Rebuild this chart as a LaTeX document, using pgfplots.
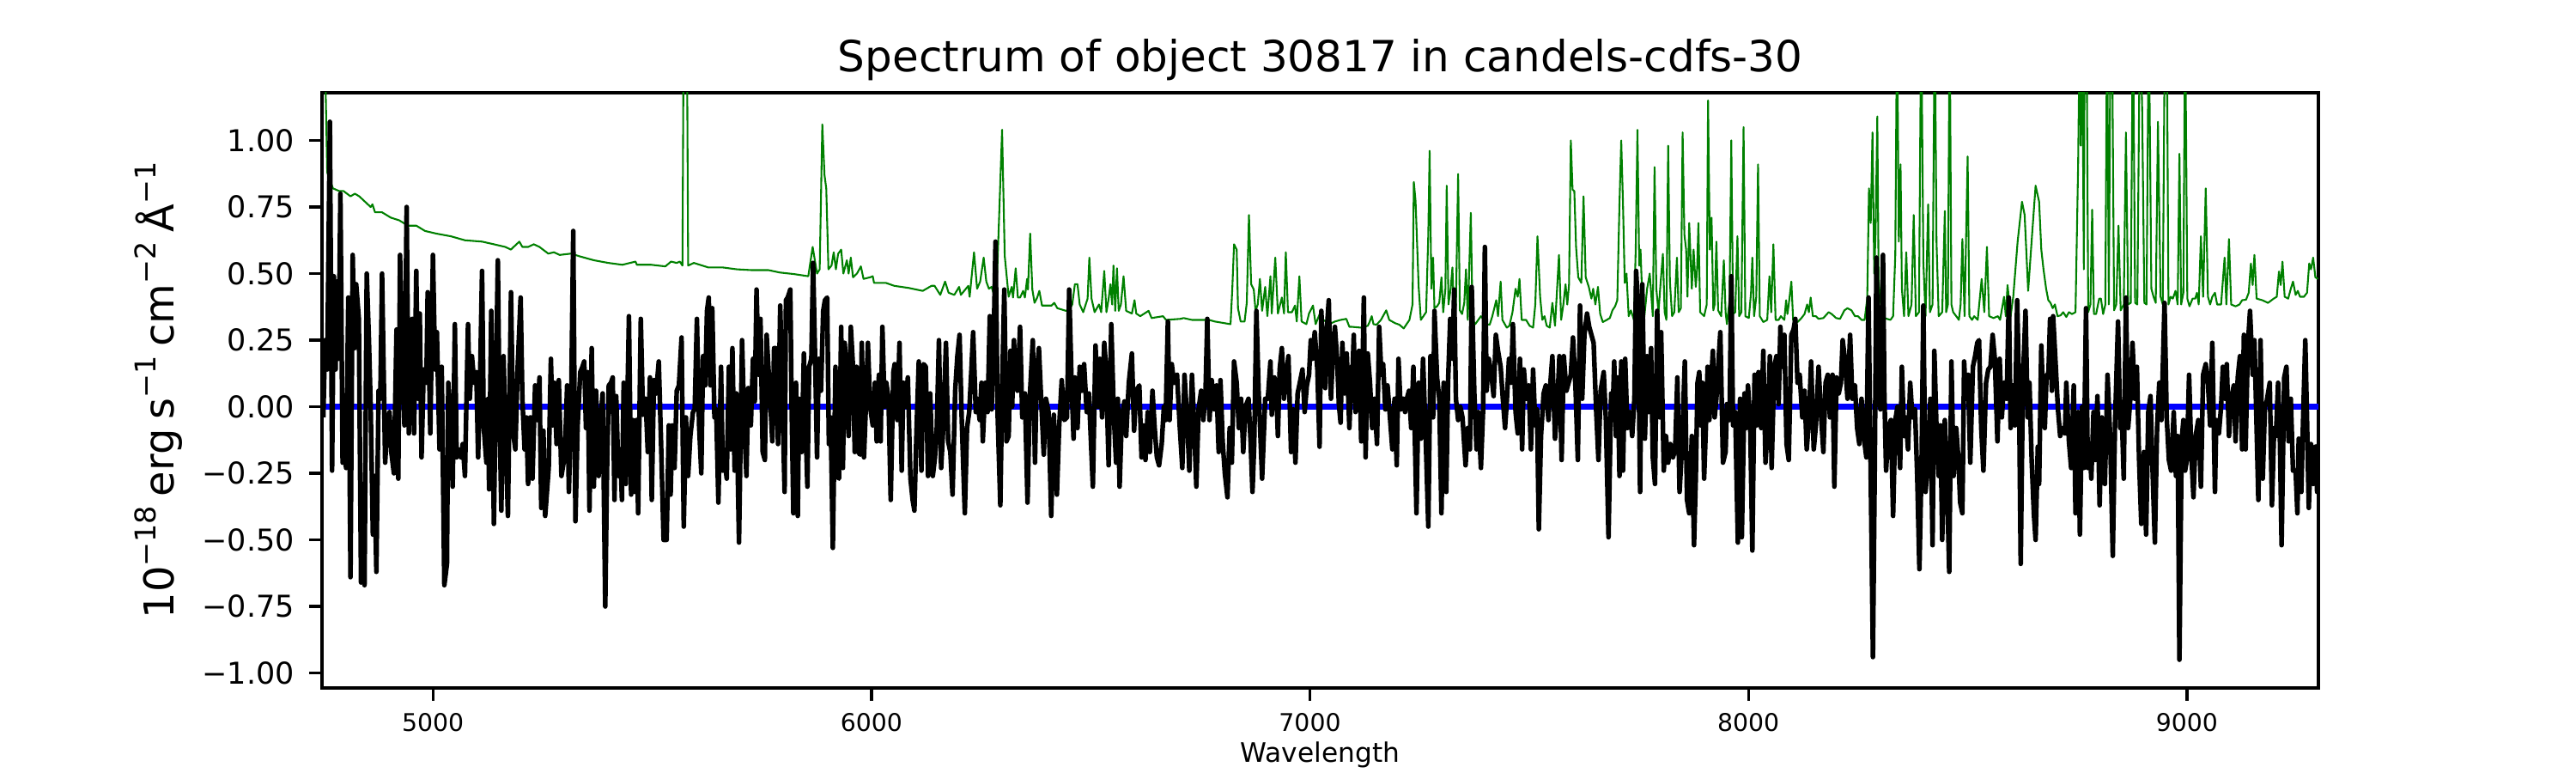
\documentclass[border=0pt]{standalone}
\usepackage{fontspec}
\setmainfont{DejaVu Sans}
\usepackage{pgfplots}
\pgfplotsset{compat=1.18}
\definecolor{mplgreen}{HTML}{008000}
\newcommand\sups[1]{\raisebox{0.42em}{\fontsize{8}{8}\selectfont #1}}
\newcommand\gap{\hspace{2.6pt}}
\begin{document}
\begin{tikzpicture}
\path[use as bounding box] (-90pt,-23.76pt) rectangle (630pt,192.24pt);
\begin{axis}[name=ax, at={(0pt,0pt)}, anchor=south west, scale only axis,
  width=558pt, height=166.32pt,
  xmin=4747, xmax=9300, ymin=-1.056, ymax=1.179,
  axis line style={line width=0.8pt},
  tick align=outside, tick pos=left, major tick length=3.5pt,
  tick style={line width=0.8pt, black},
  xtick={5000,6000,7000,8000,9000}, xticklabels={5000,6000,7000,8000,9000},
  ytick={-1,-0.75,-0.5,-0.25,0,0.25,0.5,0.75,1},
  yticklabels={−1.00,−0.75,−0.50,−0.25,0.00,0.25,0.50,0.75,1.00},
  xticklabel style={font=\fontsize{6.8}{8}\selectfont, anchor=base, inner sep=0pt, yshift=-8.7pt},
  yticklabel style={font=\fontsize{8.4}{10}\selectfont, anchor=east, inner sep=0pt, xshift=-4pt},
  clip=true]
\addplot[blue, line width=1.6pt] coordinates {(4747,0) (9300,0)};
\addplot[mplgreen, line width=0.5pt, line join=round] table[row sep=\\] {
4747 1.5\\4754 1.3\\4759 0.88\\4761 0.87\\4772 0.82\\4786 0.81\\4796 0.81\\4812 0.79\\4822 0.80\\4832 0.79\\4845 0.77\\4858 0.75\\4862 0.76\\4868 0.73\\4884 0.73\\4904 0.71\\4923 0.70\\4943 0.68\\4962 0.68\\4982 0.66\\5008 0.65\\5041 0.64\\5073 0.625\\5112 0.62\\5139 0.61\\5165 0.60\\5178 0.59\\5184 0.60\\5197 0.62\\5204 0.60\\5217 0.60\\5230 0.61\\5243 0.60\\5263 0.575\\5276 0.58\\5289 0.57\\5315 0.575\\5334 0.565\\5367 0.55\\5400 0.54\\5432 0.533\\5462 0.545\\5465 0.533\\5498 0.533\\5530 0.527\\
5543 0.545\\5556 0.54\\5563 0.545\\5569 0.53\\5572 1.5\\5579 1.5\\5582 0.53\\5595 0.54\\5628 0.523\\5661 0.523\\5693 0.516\\5726 0.513\\5765 0.513\\5791 0.504\\5824 0.498\\5856 0.49\\5866 0.60\\5876 0.50\\5882 0.516\\5888 1.06\\5893 0.87\\5897 0.82\\5902 0.516\\5909 0.53\\5914 0.58\\5919 0.516\\5924 0.574\\5931 0.59\\5936 0.50\\5944 0.55\\5948 0.50\\5953 0.56\\5958 0.486\\5967 0.50\\5976 0.527\\5982 0.48\\5997 0.486\\6003 0.49\\6006 0.465\\6033 0.465\\6052 0.454\\6085 0.446\\6117 0.435\\6137 0.454\\6144 0.454\\6157 0.42\\6168 0.47\\6176 0.428\\6189 0.42\\6200 0.45\\6204 0.42\\6221 0.454\\6224 0.413\\6234 0.58\\6241 0.443\\6248 0.47\\6256 0.56\\6262 0.47\\6268 0.443\\6274 0.45\\6281 0.413\\6287 0.51\\6298 1.04\\6304 0.567\\6313 0.413\\
6320 0.45\\6323 0.41\\6329 0.52\\6334 0.41\\6339 0.41\\6346 0.435\\6350 0.41\\6355 0.48\\6357 0.44\\6362 0.65\\6367 0.44\\6372 0.39\\6378 0.41\\6383 0.435\\6389 0.38\\6398 0.38\\6411 0.38\\6417 0.39\\6424 0.37\\6444 0.36\\6453 0.37\\6458 0.384\\6464 0.46\\6470 0.46\\6475 0.384\\6483 0.355\\6493 0.406\\6497 0.56\\6502 0.406\\6509 0.355\\6519 0.384\\6524 0.355\\6531 0.51\\6536 0.355\\6541 0.406\\6545 0.46\\6549 0.384\\6552 0.53\\6556 0.36\\6560 0.52\\6564 0.36\\6569 0.384\\6575 0.49\\6581 0.36\\6594 0.35\\6600 0.40\\6604 0.35\\6613 0.34\\6632 0.36\\6639 0.333\\6665 0.34\\6672 0.326\\6705 0.33\\6712 0.333\\6731 0.326\\6770 0.326\\6783 0.32\\6819 0.31\\6823 0.443\\6827 0.61\\6833 0.59\\6836 0.37\\6842 0.32\\6851 0.32\\6856 0.39\\6861 0.72\\6866 0.46\\6872 0.44\\6876 0.36\\6881 0.384\\6886 0.48\\6891 0.36\\6898 0.45\\6903 0.34\\6910 0.49\\6913 0.35\\6921 0.56\\6927 0.35\\6936 0.41\\6941 0.35\\6945 0.58\\6950 0.355\\6959 0.355\\6966 0.38\\6970 0.32\\6976 0.49\\6981 0.32\\6992 0.31\\6998 0.35\\7007 0.38\\7013 0.31\\7024 0.355\\7031 0.326\\7044 0.31\\7057 0.32\\7070 0.326\\7083 0.33\\7090 0.30\\7096 0.30\\
7116 0.297\\7123 0.30\\7132 0.304\\7136 0.318\\7141 0.34\\7145 0.31\\7152 0.308\\7162 0.326\\7174 0.362\\7181 0.326\\7194 0.314\\7204 0.308\\7214 0.294\\7227 0.326\\7234 0.384\\7237 0.844\\7241 0.771\\7248 0.45\\7253 0.326\\7265 0.355\\7270 0.647\\7273 0.961\\7277 0.443\\7281 0.56\\7284 0.37\\7290 0.377\\7295 0.39\\7300 0.486\\7304 0.355\\7309 0.443\\7312 0.83\\7316 0.384\\7321 0.443\\7325 0.523\\7329 0.326\\7333 0.384\\7338 0.874\\7342 0.362\\7347 0.348\\7352 0.39\\7356 0.516\\7360 0.326\\7367 0.728\\7371 0.326\\7377 0.31\\7384 0.326\\7390 0.34\\7397 0.326\\7403 0.31\\7410 0.308\\7416 0.34\\7425 0.40\\7429 0.34\\7435 0.47\\7439 0.326\\7449 0.297\\7455 0.304\\7462 0.355\\7469 0.443\\7474 0.413\\7478 0.48\\7483 0.326\\7493 0.326\\7501 0.304\\7509 0.297\\7514 0.384\\7519 0.64\\7525 0.413\\7530 0.326\\7535 0.34\\7540 0.304\\7547 0.297\\7553 0.39\\7559 0.304\\7568 0.57\\7573 0.326\\7578 0.384\\7583 0.46\\7587 0.384\\7591 0.46\\7595 1.00\\7599 0.815\\7603 0.81\\7607 0.60\\7612 0.486\\7619 0.465\\7624 0.79\\7629 0.486\\7636 0.45\\7642 0.406\\7646 0.443\\7651 0.384\\7657 0.45\\7662 0.348\\7668 0.318\\7677 0.326\\7684 0.333\\7690 0.362\\7696 0.377\\7701 0.40\\7706 0.764\\7710 1.00\\7714 0.764\\7718 0.465\\7722 0.50\\7727 0.34\\7732 0.362\\7739 0.326\\7743 0.59\\7747 1.04\\7751 0.53\\7754 0.59\\7758 0.406\\7762 0.326\\7769 0.443\\7775 0.50\\7782 0.34\\7786 0.90\\7790 0.443\\7795 0.355\\7800 0.47\\7805 0.574\\7809 0.355\\7813 0.326\\7817 0.98\\7821 0.47\\7826 0.34\\7831 0.355\\7837 0.56\\7841 0.355\\7846 0.37\\7850 1.03\\7854 0.647\\7858 0.59\\7861 0.413\\7865 0.69\\7871 0.443\\7875 0.59\\7880 0.45\\
7883 0.516\\7886 0.69\\7890 0.355\\7899 0.34\\7905 0.384\\7908 1.15\\7912 0.59\\7916 0.71\\7920 0.362\\7923 0.384\\7927 0.62\\7931 0.362\\7938 0.34\\7944 0.55\\7948 0.355\\7951 0.31\\7957 0.40\\7961 1.00\\7965 0.348\\7970 0.355\\7975 0.64\\7979 0.34\\7984 0.355\\7989 1.05\\7993 0.34\\8001 0.333\\8006 0.428\\8009 0.56\\8013 0.34\\8018 0.413\\8022 0.91\\8026 0.34\\8034 0.318\\8043 0.326\\8048 0.49\\8052 0.355\\8057 0.61\\8062 0.326\\8069 0.326\\8074 0.34\\8082 0.326\\8086 0.40\\8089 0.348\\8092 0.384\\8098 0.47\\8102 0.326\\8112 0.318\\8121 0.333\\8128 0.348\\8134 0.384\\8138 0.355\\8142 0.41\\8147 0.34\\8154 0.34\\8160 0.33\\8171 0.333\\8183 0.355\\8190 0.348\\8200 0.333\\8209 0.33\\8219 0.362\\8226 0.37\\8235 0.362\\8243 0.34\\8250 0.34\\8258 0.326\\8265 0.326\\8271 0.406\\8275 0.82\\8279 0.69\\8283 1.03\\8287 0.50\\8290 0.65\\8294 1.09\\8297 0.47\\8304 0.355\\8310 0.333\\8324 0.326\\8330 0.34\\8335 0.57\\8339 1.5\\8343 0.62\\8347 0.91\\8350 0.443\\8355 0.34\\8360 0.58\\8365 0.34\\8372 0.384\\8377 0.72\\8382 0.34\\8389 0.355\\8394 1.5\\8399 0.545\\8404 0.34\\8410 0.76\\8414 0.355\\8420 0.384\\8425 1.5\\8429 0.62\\8434 0.34\\8442 0.355\\8448 0.735\\8451 0.355\\8455 0.384\\8459 1.5\\8463 0.384\\8467 0.355\\8474 0.34\\8480 0.326\\8484 0.384\\8488 0.63\\8493 0.34\\8500 0.94\\8504 0.34\\8510 0.326\\8515 0.34\\8523 0.326\\8532 0.48\\8538 0.355\\8544 0.60\\8549 0.34\\8559 0.333\\8569 0.34\\8574 0.326\\8583 0.413\\8587 0.34\\8591 0.457\\8598 0.34\\8604 0.413\\8614 0.62\\8624 0.77\\8630 0.72\\8638 0.435\\8647 0.647\\8655 0.83\\8663 0.77\\
8668 0.59\\8673 0.516\\8679 0.443\\8684 0.40\\8689 0.39\\8694 0.37\\8699 0.384\\8705 0.34\\8712 0.343\\8718 0.355\\8725 0.337\\8731 0.355\\8738 0.348\\8746 0.355\\8752 0.91\\8756 1.5\\8758 0.98\\8761 1.5\\8765 0.516\\8767 1.5\\8771 1.5\\8775 0.355\\8780 0.384\\8784 0.74\\8788 0.348\\8793 0.348\\8800 0.406\\8804 0.406\\8809 0.348\\8814 0.384\\8818 1.5\\8822 0.384\\8826 1.5\\8829 1.5\\8834 0.362\\8839 0.384\\8844 0.68\\8849 0.362\\8856 0.384\\8861 1.03\\8866 0.384\\8872 0.39\\8877 1.5\\8882 0.39\\8887 0.384\\8893 1.5\\8898 1.12\\8903 0.39\\8908 0.384\\8913 1.5\\8919 0.443\\8924 0.413\\8929 0.39\\8934 1.07\\8940 0.413\\8945 0.384\\8950 1.5\\8954 1.5\\8958 0.384\\8963 0.413\\8968 0.406\\8974 0.435\\8979 0.384\\8983 0.95\\8987 0.384\\8992 0.428\\8996 1.5\\9001 0.406\\9006 0.377\\9013 0.406\\9019 0.406\\9023 0.428\\9027 0.384\\9032 0.64\\9037 0.413\\9043 0.82\\9048 0.413\\9053 0.384\\9058 0.413\\9064 0.428\\9069 0.384\\9078 0.384\\9086 0.56\\9090 0.384\\9096 0.63\\9101 0.384\\9111 0.377\\9120 0.384\\9126 0.40\\9135 0.402\\9141 0.428\\9146 0.538\\9150 0.457\\9154 0.57\\9159 0.406\\9172 0.40\\9185 0.39\\9198 0.406\\9205 0.413\\9210 0.508\\9214 0.457\\9218 0.545\\9223 0.413\\9231 0.406\\9237 0.443\\9242 0.47\\9248 0.42\\9253 0.435\\9258 0.413\\9267 0.413\\9274 0.428\\9279 0.538\\9283 0.516\\9288 0.56\\9293 0.486\\9299 0.48\\
};
\addplot[black, line width=1.3pt, line join=round] table[row sep=\\] {
4750 -0.04\\4754 0.25\\4759 0.14\\4765 1.07\\4770 -0.24\\4774 0.49\\4778 0.14\\4781 0.47\\4785 0.18\\4789 0.80\\4794 -0.21\\4798 -0.17\\4802 -0.23\\4807 0.41\\4812 -0.64\\4817 0.57\\4821 0.22\\4825 0.46\\4831 0.33\\4836 -0.66\\4840 -0.29\\4844 -0.67\\4849 0.50\\4854 0.25\\4858 0.00\\4863 -0.48\\4867 -0.26\\4871 -0.62\\4876 0.06\\4880 0.03\\4884 0.50\\4891 -0.21\\4896 -0.07\\4901 -0.02\\4905 -0.17\\4911 -0.25\\4917 0.29\\4921 -0.27\\4925 0.57\\4930 0.18\\4935 -0.07\\4940 0.75\\4945 -0.10\\4949 0.24\\4953 0.33\\4957 -0.10\\4962 0.51\\4966 0.03\\4970 0.35\\4974 -0.19\\4979 0.14\\4985 0.09\\4988 0.43\\4994 -0.10\\5000 0.57\\5005 0.14\\5009 0.28\\5015 -0.16\\5020 0.15\\5026 -0.67\\5032 -0.59\\5035 0.09\\5041 -0.08\\5045 -0.30\\5050 0.31\\5054 -0.19\\5059 -0.16\\5064 -0.19\\5068 -0.14\\5073 -0.26\\5080 0.31\\5084 0.03\\5089 0.19\\5094 0.09\\5099 0.13\\5103 -0.19\\5107 0.06\\5112 0.51\\5116 -0.08\\5122 -0.21\\5126 0.03\\5128 -0.31\\5133 0.36\\5139 -0.44\\5143 0.02\\5148 0.55\\5152 -0.04\\5156 -0.39\\5161 0.19\\5166 -0.12\\5171 -0.41\\5178 0.43\\5183 -0.10\\5188 -0.16\\5193 0.14\\5200 0.41\\5204 0.03\\5209 -0.16\\5213 -0.04\\5217 -0.29\\5222 -0.04\\5227 -0.27\\5233 0.08\\5238 -0.05\\5243 0.11\\5247 -0.38\\5252 -0.09\\5256 -0.41\\5260 -0.32\\5264 -0.23\\5269 0.18\\5273 -0.07\\5277 0.09\\5282 -0.14\\5287 0.10\\5293 -0.26\\5298 -0.21\\5302 -0.12\\5306 0.08\\5310 -0.32\\5315 -0.02\\5320 0.66\\5325 -0.43\\5330 -0.07\\5336 0.13\\5341 0.15\\5345 0.17\\5349 -0.08\\5353 0.13\\5357 -0.39\\5362 0.22\\5367 -0.30\\5372 0.06\\5378 -0.26\\5381 -0.08\\5387 0.05\\5393 -0.75\\5397 -0.24\\5401 0.08\\5406 0.09\\5410 0.11\\5414 -0.35\\5418 0.04\\5423 -0.26\\5427 -0.16\\5431 -0.35\\5435 0.09\\5440 -0.29\\5447 0.34\\5452 -0.33\\5456 -0.05\\5460 -0.32\\5464 -0.05\\5468 -0.40\\5474 0.33\\5479 -0.03\\5485 0.03\\5490 -0.17\\5495 0.11\\5499 -0.35\\5504 0.10\\5509 0.05\\5515 0.17\\5520 -0.12\\5526 -0.50\\
5533 -0.50\\5538 -0.07\\5542 -0.33\\5546 -0.07\\5551 -0.23\\5556 0.06\\5561 0.08\\5567 0.26\\5572 -0.45\\5577 -0.04\\5582 -0.26\\5587 -0.11\\5593 -0.02\\5597 -0.01\\5602 0.33\\5607 -0.07\\5612 -0.25\\5616 0.19\\5621 0.08\\5625 0.36\\5629 0.41\\5633 0.08\\5637 0.37\\5642 -0.04\\5646 -0.01\\5651 -0.36\\5657 0.15\\5661 -0.24\\5664 -0.17\\5670 -0.27\\5675 0.15\\5679 -0.16\\5683 0.22\\5688 -0.24\\5692 0.05\\5698 -0.51\\5705 0.25\\5710 -0.07\\5715 -0.26\\5719 0.07\\5725 -0.07\\5730 0.18\\5734 0.02\\5738 0.44\\5743 0.12\\5747 0.33\\5752 -0.17\\5757 -0.20\\5761 0.27\\5765 0.15\\5769 0.03\\5774 -0.13\\5778 0.22\\5782 0.22\\5787 -0.14\\5792 0.38\\5798 -0.04\\5802 -0.32\\5805 0.40\\5809 0.41\\5815 0.44\\5818 0.00\\5822 -0.40\\5828 0.09\\5832 -0.41\\5835 0.03\\5841 -0.17\\5846 0.20\\5850 -0.08\\5854 -0.30\\5858 0.15\\5863 0.18\\5867 0.54\\5872 0.15\\5876 -0.19\\5880 0.18\\5885 0.06\\5890 0.36\\5894 0.40\\5899 0.41\\5903 -0.14\\5907 -0.04\\5912 -0.53\\5918 0.15\\5922 -0.26\\5926 -0.27\\5931 0.30\\5935 -0.23\\5939 0.24\\5943 0.15\\5948 -0.11\\5953 0.30\\5958 0.15\\5962 -0.17\\5966 0.15\\5970 -0.17\\5974 -0.18\\5978 0.24\\5983 -0.19\\5988 0.03\\5992 0.24\\5997 0.00\\6003 -0.07\\6008 0.09\\6012 -0.13\\6017 0.12\\6021 -0.13\\6025 0.30\\6030 0.00\\6034 0.09\\6039 0.03\\6044 -0.35\\6050 0.13\\6053 0.16\\6059 -0.05\\6064 0.24\\6069 -0.24\\6073 0.09\\6078 0.00\\6083 0.11\\6089 -0.27\\6094 -0.35\\6098 -0.39\\6103 -0.08\\6108 0.17\\6114 -0.24\\6119 0.16\\6124 0.15\\6129 -0.26\\6134 0.05\\6140 -0.26\\6145 -0.19\\6149 -0.08\\6154 0.25\\6159 -0.23\\6164 -0.07\\6170 0.24\\6175 -0.13\\6180 -0.17\\6185 -0.33\\6191 0.06\\6196 0.19\\6201 0.27\\6206 -0.05\\6213 -0.40\\6218 -0.08\\6223 -0.02\\6228 0.14\\6232 0.28\\6238 -0.02\\6241 0.03\\6247 -0.05\\6251 0.09\\6254 -0.13\\6260 0.09\\6265 -0.02\\6270 0.34\\6274 -0.01\\6278 0.17\\6283 0.62\\6288 -0.04\\6294 -0.37\\6298 0.06\\6303 0.44\\6308 -0.13\\
6313 -0.11\\6317 0.21\\6321 0.00\\6325 0.25\\6329 0.09\\6333 0.06\\6339 0.30\\6344 -0.04\\6350 0.05\\6356 -0.36\\6361 0.03\\6368 0.25\\6373 -0.21\\6377 0.12\\6382 0.22\\6387 0.03\\6393 -0.18\\6398 0.03\\6404 -0.02\\6410 -0.41\\6416 -0.03\\6423 -0.33\\6428 -0.08\\6434 0.10\\6440 -0.05\\6446 -0.04\\6451 0.44\\6457 0.06\\6461 -0.12\\6464 0.11\\6470 -0.08\\6475 0.15\\6480 0.06\\6485 0.16\\6491 -0.02\\6496 0.05\\6505 -0.30\\6511 0.23\\6517 0.00\\6521 0.18\\6526 -0.04\\6531 0.24\\6535 0.15\\6541 -0.22\\6547 0.31\\6553 -0.04\\6558 -0.21\\6562 0.03\\6566 -0.30\\6571 -0.04\\6577 0.02\\6581 -0.11\\6587 0.09\\6594 0.20\\6599 -0.09\\6604 0.06\\6611 0.08\\6616 -0.19\\6621 -0.07\\6625 -0.20\\6630 -0.02\\6635 -0.17\\6641 0.06\\6646 -0.08\\6651 -0.19\\6656 -0.22\\6662 -0.14\\6667 0.00\\6671 -0.05\\6676 0.32\\6680 -0.05\\6685 0.16\\6690 0.09\\6697 0.12\\6703 -0.07\\6709 -0.23\\6714 0.12\\6720 -0.05\\6725 -0.24\\6731 0.12\\6736 -0.07\\6741 -0.30\\6746 -0.01\\6752 0.06\\6757 -0.05\\6762 0.06\\6766 0.33\\6771 -0.05\\6776 0.10\\6782 -0.01\\6787 0.08\\6792 -0.17\\6796 0.10\\6801 -0.13\\6806 -0.25\\6812 -0.34\\6817 -0.08\\6822 -0.21\\6827 0.17\\6833 0.09\\6838 -0.08\\6843 0.03\\6848 -0.17\\6853 0.00\\6860 0.03\\6865 -0.14\\6869 -0.32\\6873 -0.14\\6878 0.36\\6883 0.06\\6891 -0.27\\6898 0.03\\6904 0.03\\6910 0.17\\6913 -0.03\\6919 0.11\\6923 0.08\\6927 -0.11\\6931 0.14\\6936 0.22\\6941 0.03\\6946 0.12\\6951 0.19\\6957 -0.17\\6962 -0.01\\6967 -0.21\\6972 0.05\\6977 0.09\\6983 0.14\\6988 -0.02\\6993 0.08\\6998 0.12\\7002 0.25\\7006 0.18\\7011 0.28\\7017 0.14\\7022 -0.15\\7026 0.36\\7031 0.18\\7035 0.07\\7039 0.30\\7043 0.40\\7048 0.03\\7053 0.22\\7057 0.30\\7062 0.18\\7066 0.01\\7070 -0.06\\7074 0.24\\7079 0.05\\7084 0.20\\7090 -0.08\\7095 0.15\\
7097 0.12\\7100 0.27\\7104 -0.02\\7108 0.18\\7112 0.21\\7117 -0.13\\7123 0.41\\7127 -0.19\\7132 0.20\\7137 0.09\\7142 -0.08\\7147 0.03\\7153 -0.14\\7158 0.30\\7163 0.12\\7167 0.16\\7172 -0.01\\7177 0.08\\7183 -0.05\\7188 -0.16\\7193 0.03\\7198 -0.22\\7202 0.18\\7207 -0.01\\7213 0.03\\7217 -0.02\\7221 0.03\\7226 0.06\\7231 -0.08\\7236 0.15\\7243 -0.40\\7248 0.09\\7253 -0.12\\7258 0.18\\7264 -0.11\\7270 -0.45\\7275 0.19\\7281 -0.04\\7284 0.36\\7290 0.11\\7295 0.03\\7300 -0.40\\7305 0.09\\7311 -0.32\\7315 0.09\\7320 0.33\\7325 0.18\\7329 0.44\\7333 0.03\\7338 -0.05\\7343 0.00\\7348 -0.04\\7355 -0.22\\7360 -0.08\\7365 -0.16\\7369 0.45\\7375 0.05\\7380 -0.16\\7384 -0.02\\7390 -0.23\\7395 -0.01\\7399 0.60\\7403 0.06\\7408 0.18\\7414 0.12\\7419 0.04\\7424 0.27\\7429 0.21\\7435 0.15\\7440 0.03\\7445 -0.08\\7449 0.02\\7454 0.18\\7459 0.09\\7463 0.31\\7469 -0.02\\7474 -0.10\\7479 0.18\\7484 -0.16\\7488 0.14\\7493 0.03\\7499 0.08\\7504 -0.16\\7509 0.14\\7514 -0.07\\7518 -0.01\\7522 -0.46\\7527 -0.11\\7533 0.05\\7538 0.08\\7544 -0.05\\7548 0.08\\7553 0.19\\7559 -0.12\\7564 0.00\\7569 0.19\\7574 -0.20\\7579 0.19\\7585 0.06\\7590 0.09\\7595 0.12\\7600 0.26\\7606 0.06\\7611 -0.20\\7616 0.38\\7621 0.03\\7626 0.27\\7632 0.35\\7637 0.30\\7642 0.27\\7647 0.24\\7653 -0.02\\7658 -0.20\\7663 0.06\\7670 0.13\\7675 -0.05\\7681 -0.49\\7687 0.05\\7690 -0.05\\7694 0.17\\7698 -0.11\\7702 0.11\\7706 -0.26\\7710 0.17\\7714 -0.24\\7719 0.18\\7724 -0.08\\7730 -0.02\\7735 -0.11\\7740 0.03\\7744 0.51\\7748 0.38\\7753 -0.32\\7758 0.46\\7764 -0.12\\7769 0.19\\7773 -0.02\\7778 0.22\\7782 -0.19\\7787 -0.29\\7792 0.36\\7798 -0.04\\7801 0.28\\7807 -0.24\\7812 -0.11\\7817 -0.21\\7822 -0.14\\7828 -0.19\\7833 -0.16\\7838 0.11\\7843 -0.32\\7848 -0.17\\7855 0.17\\7860 -0.35\\7865 -0.40\\7871 -0.11\\7876 -0.52\\
7880 -0.27\\7884 0.09\\7888 0.13\\7891 -0.07\\7895 0.09\\7899 -0.27\\7903 -0.08\\7907 0.15\\7911 -0.05\\7915 0.09\\7919 0.21\\7923 -0.04\\7927 0.03\\7931 0.15\\7936 0.28\\7942 -0.21\\7948 -0.17\\7951 0.01\\7957 -0.05\\7961 0.49\\7965 -0.07\\7970 -0.02\\7976 -0.51\\7981 0.03\\7985 -0.49\\7991 0.05\\7995 -0.08\\7999 0.08\\8004 -0.05\\8009 -0.54\\8014 0.12\\8019 -0.07\\8023 0.13\\8029 -0.08\\8034 0.21\\8039 -0.21\\8044 -0.08\\8049 0.19\\8053 -0.23\\8059 0.15\\8064 0.19\\8069 0.01\\8073 0.30\\8077 0.15\\8082 0.27\\8087 -0.14\\8092 -0.20\\8098 0.27\\8103 0.29\\8107 0.33\\8112 0.09\\8117 0.12\\8123 -0.04\\8128 0.06\\8133 -0.16\\8138 -0.05\\8143 0.17\\8149 -0.16\\8154 -0.07\\8160 0.15\\8166 -0.04\\8171 -0.17\\8176 0.09\\8181 0.12\\8186 -0.04\\8192 0.12\\8196 -0.30\\8201 0.11\\8206 0.05\\8211 0.09\\8215 0.25\\8220 0.18\\8226 0.03\\8232 0.27\\8237 0.03\\8243 0.08\\8248 -0.08\\8253 -0.14\\8258 0.03\\8263 -0.11\\8269 -0.19\\8274 0.41\\8279 -0.26\\8284 -0.94\\8288 -0.26\\8292 0.56\\8297 0.09\\8301 -0.01\\8307 0.57\\8310 0.06\\8314 -0.24\\8320 -0.07\\8325 -0.05\\8330 -0.41\\8335 -0.05\\8340 0.00\\8346 -0.23\\8350 0.15\\8355 -0.11\\8359 -0.04\\8364 -0.16\\8369 0.09\\8374 -0.04\\8380 -0.01\\8385 -0.26\\8390 -0.61\\8395 -0.20\\8399 0.38\\8404 -0.32\\8410 -0.20\\8415 0.03\\8420 -0.52\\8424 0.21\\8429 -0.08\\8434 -0.26\\8438 -0.07\\8442 -0.50\\8448 -0.05\\8453 -0.29\\8458 -0.62\\8463 0.17\\8468 -0.26\\8474 -0.08\\8479 -0.20\\8483 -0.36\\8488 -0.40\\8492 0.17\\8496 0.03\\8501 0.12\\8506 -0.21\\8512 0.15\\8517 0.19\\8522 0.24\\8526 0.25\\8531 -0.08\\8536 -0.24\\8542 0.09\\8547 0.14\\8552 0.15\\8557 0.27\\8562 0.18\\8568 -0.13\\8573 0.18\\8578 -0.04\\8583 0.09\\8589 0.03\\8594 0.41\\8598 -0.08\\8603 0.08\\8608 -0.07\\8613 0.40\\8617 0.09\\8621 -0.59\\8626 0.09\\8632 0.36\\8637 -0.04\\8641 0.09\\8646 -0.20\\8651 -0.40\\8655 -0.50\\8660 -0.15\\
8663 -0.29\\8668 0.23\\8672 0.03\\8676 -0.08\\8680 0.12\\8684 0.11\\8688 0.33\\8692 0.06\\8695 0.34\\8701 0.15\\8706 -0.01\\8711 -0.11\\8716 -0.08\\8722 -0.10\\8725 0.09\\8731 -0.13\\8736 -0.23\\8742 0.08\\8746 -0.40\\8752 -0.02\\8756 -0.48\\8761 0.00\\8765 -0.23\\8770 0.37\\8774 -0.23\\8778 -0.14\\8782 -0.27\\8787 -0.02\\8791 -0.20\\8796 0.04\\8801 -0.37\\8806 -0.04\\8813 -0.29\\8819 0.12\\8825 -0.11\\8831 -0.56\\8836 -0.07\\8843 0.32\\8848 -0.08\\8852 -0.05\\8856 -0.27\\8861 0.41\\8866 -0.08\\8872 0.05\\8876 0.24\\8881 0.03\\8886 0.15\\8891 -0.20\\8896 -0.44\\8902 -0.17\\8907 -0.48\\8912 -0.02\\8917 0.04\\8921 -0.20\\8927 -0.51\\8932 -0.08\\8937 0.09\\8942 -0.05\\8949 0.39\\8954 -0.04\\8959 -0.20\\8964 -0.24\\8970 -0.02\\8975 -0.26\\8979 -0.11\\8983 -0.95\\8988 -0.13\\8992 -0.05\\8996 -0.24\\9000 -0.20\\9005 0.12\\9010 -0.17\\9015 -0.34\\9020 -0.11\\9026 -0.05\\9032 -0.30\\9037 0.12\\9043 0.16\\9048 0.09\\9053 -0.07\\9058 0.24\\9064 -0.32\\9067 -0.05\\9073 -0.10\\9078 0.00\\9082 0.15\\9087 0.03\\9091 0.16\\9096 -0.11\\9101 0.03\\9107 0.08\\9111 -0.13\\9116 0.11\\9121 0.19\\9126 -0.16\\9130 0.27\\9134 -0.16\\9139 0.23\\9144 0.36\\9150 0.12\\9154 0.25\\9158 -0.01\\9163 -0.35\\9168 0.25\\9173 -0.27\\9178 0.00\\9182 0.02\\9189 0.09\\9194 -0.37\\9199 -0.08\\9203 -0.11\\9208 0.09\\9212 -0.11\\9216 -0.52\\9222 0.11\\9227 0.15\\9232 -0.13\\9237 0.03\\9242 -0.24\\9248 -0.24\\9252 -0.40\\9255 -0.12\\9261 -0.32\\9265 -0.05\\9270 0.25\\9274 -0.05\\9278 -0.38\\9283 -0.14\\9288 -0.29\\9293 -0.15\\9297 -0.32\\9300 -0.14\\
};
\end{axis}
\node[anchor=base, font=\fontsize{12}{14}\selectfont] at ([yshift=5.8pt]ax.north) {Spectrum of object 30817 in candels-cdfs-30};
\node[anchor=base, font=\fontsize{7.5}{9}\selectfont] at ([yshift=-20.8pt]ax.south) {Wavelength};
\node[rotate=90, anchor=base, font=\fontsize{11.5}{13}\selectfont] at ([xshift=-41.5pt]ax.west) {10\sups{−18}\gap erg\gap s\sups{−1}\gap cm\sups{−2}\gap Å\sups{−1}};
\end{tikzpicture}
\end{document}
